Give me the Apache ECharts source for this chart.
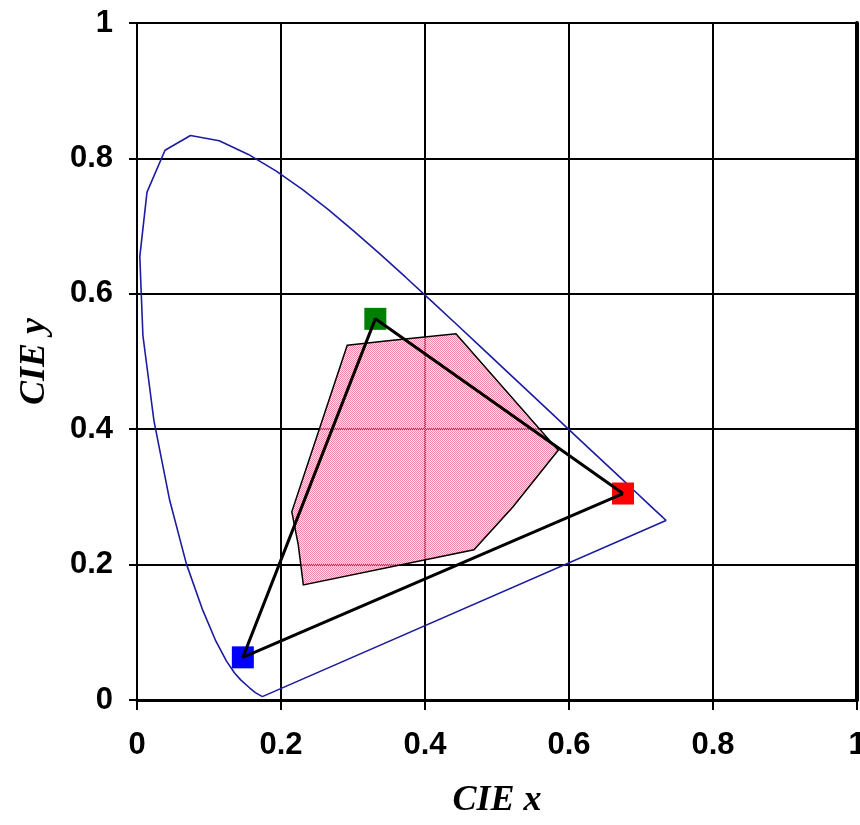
<!DOCTYPE html>
<html>
<head>
<meta charset="utf-8">
<script src="https://cdn.jsdelivr.net/npm/echarts@6/dist/echarts.min.js"></script>
<style>
  html, body { margin: 0; padding: 0; background: #ffffff; }
  #chart { width: 860px; height: 825px; }
</style>
</head>
<body>
<div id="chart"></div>
<script>
// Spectral locus (CIE 1931 chromaticity), closed by the line of purples
const locusX = [0.1741, 0.1733, 0.1714, 0.1644, 0.1566, 0.1440, 0.1355, 0.1241, 0.1096, 0.0913,
                0.0687, 0.0454, 0.0235, 0.0082, 0.0039, 0.0139, 0.0389, 0.0743, 0.1142, 0.1547,
                0.1929, 0.2296, 0.2658, 0.3016, 0.3373, 0.3731, 0.4087, 0.4441, 0.4788, 0.5125,
                0.5448, 0.5752, 0.6029, 0.6270, 0.6658, 0.6915, 0.7079, 0.7190, 0.7300, 0.7347];
const locusY = [0.0050, 0.0048, 0.0051, 0.0109, 0.0177, 0.0297, 0.0399, 0.0578, 0.0868, 0.1327,
                0.2007, 0.2950, 0.4127, 0.5384, 0.6548, 0.7502, 0.8120, 0.8338, 0.8262, 0.8059,
                0.7816, 0.7543, 0.7243, 0.6923, 0.6589, 0.6245, 0.5896, 0.5547, 0.5202, 0.4866,
                0.4544, 0.4242, 0.3965, 0.3725, 0.3340, 0.3083, 0.2920, 0.2809, 0.2700, 0.2653];

// Pink gamut outline
const gamutX = [0.292, 0.352, 0.443, 0.585, 0.522, 0.468, 0.231, 0.224, 0.215];
const gamutY = [0.524, 0.531, 0.541, 0.369, 0.285, 0.222, 0.170, 0.229, 0.278];

// Display primaries (red, green, blue)
const primaryX = [0.675, 0.331, 0.147];
const primaryY = [0.305, 0.563, 0.063];
const primaryColors = ['#ff0000', '#008000', '#0000ff'];

// Axis ticks
const axisMin = 0;
const axisMax = 1;
const axisStep = 0.2;

const chart = echarts.init(document.getElementById('chart'), null, { renderer: 'canvas' });

// 2x2 checker dither used for the gamut fill; half-clear cells let the grid show through
const dither = document.createElement('canvas');
dither.width = 2; dither.height = 2;
const dctx = dither.getContext('2d');
dctx.fillStyle = 'rgba(250,196,212,0.45)';
dctx.fillRect(1, 0, 1, 1);
dctx.fillRect(0, 1, 1, 1);
dctx.fillStyle = 'rgb(240,138,170)';
dctx.fillRect(0, 0, 1, 1);
dctx.fillRect(1, 1, 1, 1);

const locusData = locusX.map((x, i) => [x, locusY[i]]);
locusData.push([locusX[0], locusY[0]]);

const gamutData = gamutX.map((x, i) => [x, gamutY[i]]);

const triData = primaryX.map((x, i) => [x, primaryY[i]]);
triData.push([primaryX[0], primaryY[0]]);

const markerData = primaryX.map((x, i) => ({
  value: [x, primaryY[i]],
  itemStyle: { color: primaryColors[i], opacity: 1 }
}));

const labelFont = {
  fontFamily: '"Liberation Sans", Arial, sans-serif',
  fontWeight: 'bold',
  fontSize: 31,
  color: '#000'
};
const nameFont = {
  fontFamily: '"Liberation Serif", "Times New Roman", serif',
  fontStyle: 'italic',
  fontWeight: 'bold',
  fontSize: 36,
  color: '#000'
};

chart.setOption({
  animation: false,
  backgroundColor: '#ffffff',
  grid: {
    left: 137, top: 23, right: 3, bottom: 125,
    containLabel: false,
    outerBoundsMode: 'none'
  },
  xAxis: {
    type: 'value',
    min: axisMin, max: axisMax, interval: axisStep,
    name: 'CIE x',
    nameLocation: 'middle',
    nameGap: 83,
    nameTextStyle: nameFont,
    axisLine: { show: true, onZero: false, lineStyle: { color: '#000', width: 3 } },
    axisTick: { show: true, length: 10, lineStyle: { color: '#000', width: 2 } },
    axisLabel: Object.assign({ margin: 30, showMinLabel: true, showMaxLabel: true, hideOverlap: false }, labelFont),
    splitLine: { show: true, showMinLine: true, showMaxLine: true, lineStyle: { color: '#000', width: 2 } }
  },
  yAxis: [{
    type: 'value',
    min: axisMin, max: axisMax, interval: axisStep,
    name: 'CIE y',
    nameLocation: 'middle',
    nameGap: 84,
    nameTextStyle: nameFont,
    axisLine: { show: true, onZero: false, lineStyle: { color: '#000', width: 2 } },
    axisTick: { show: true, length: 8, lineStyle: { color: '#000', width: 2 } },
    axisLabel: Object.assign({ margin: 24, showMinLabel: true, showMaxLabel: true, hideOverlap: false }, labelFont),
    splitLine: { show: true, showMinLine: true, showMaxLine: true, lineStyle: { color: '#000', width: 2 } }
  }, {
    type: 'value',
    position: 'right',
    min: axisMin, max: axisMax, interval: axisStep,
    axisLine: { show: true, onZero: false, lineStyle: { color: '#000', width: 4 } },
    axisTick: { show: false },
    axisLabel: { show: false },
    splitLine: { show: false }
  }],
  series: [
    {
      name: 'gamut',
      type: 'custom',
      coordinateSystem: 'cartesian2d',
      data: gamutData,
      z: 3,
      renderItem: function (params, api) {
        if (params.dataIndex !== 0) return null;
        const pts = gamutData.map(p => api.coord(p));
        return {
          type: 'polygon',
          shape: { points: pts },
          style: {
            fill: { image: dither, repeat: 'repeat' },
            stroke: '#000',
            lineWidth: 1.5
          }
        };
      }
    },
    {
      name: 'locus',
      type: 'line',
      data: locusData,
      symbol: 'none',
      z: 4,
      lineStyle: { color: '#1c1ca0', width: 1.6 }
    },
    {
      name: 'primaries',
      type: 'scatter',
      data: markerData,
      symbol: 'rect',
      symbolSize: 22,
      z: 5
    },
    {
      name: 'triangle',
      type: 'line',
      data: triData,
      symbol: 'none',
      z: 6,
      lineStyle: { color: '#000', width: 3 }
    }
  ]
});
</script>
</body>
</html>
